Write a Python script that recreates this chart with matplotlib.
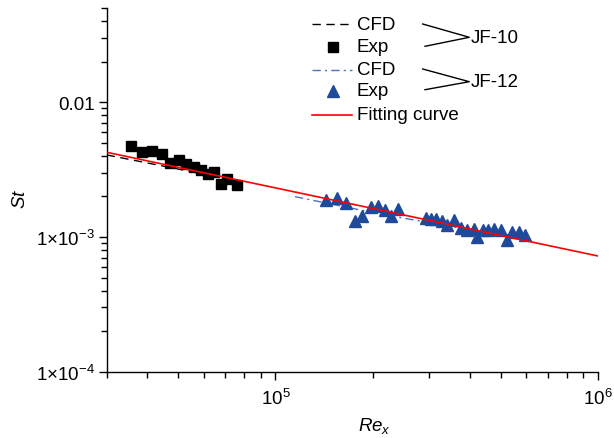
import matplotlib
matplotlib.use('Agg')
import matplotlib.pyplot as plt
from matplotlib.lines import Line2D
from matplotlib.ticker import FixedLocator, NullFormatter

plt.rcParams['font.family'] = ['Liberation Sans', 'DejaVu Sans']
plt.rcParams['mathtext.fontset'] = 'custom'
plt.rcParams['mathtext.rm'] = 'Liberation Sans'
plt.rcParams['mathtext.it'] = 'Liberation Sans:italic'

# ---------------- data ----------------
# JF-10 experiment (squares)
jf10_exp_re = [3.58e4, 3.85e4, 4.15e4, 4.44e4, 4.73e4, 5.02e4, 5.30e4,
               5.59e4, 5.89e4, 6.17e4, 6.47e4, 6.76e4, 7.09e4, 7.61e4]
jf10_exp_st = [4.77e-3, 4.25e-3, 4.37e-3, 4.11e-3, 3.54e-3, 3.71e-3, 3.46e-3,
               3.30e-3, 3.12e-3, 2.92e-3, 3.05e-3, 2.47e-3, 2.69e-3, 2.43e-3]
# JF-10 CFD (dashed)
jf10_cfd_re = [3.0e4, 6.5e4]
jf10_cfd_st = [4.06e-3, 2.82e-3]

# JF-12 experiment (triangles)
jf12_exp_re = [1.44e5, 1.55e5, 1.65e5, 1.76e5, 1.86e5, 1.98e5, 2.08e5,
               2.19e5, 2.29e5, 2.40e5, 2.93e5, 3.04e5, 3.15e5, 3.29e5,
               3.41e5, 3.58e5, 3.77e5, 3.93e5, 4.13e5, 4.22e5, 4.39e5,
               4.57e5, 4.76e5, 4.99e5, 5.23e5, 5.40e5, 5.69e5, 5.94e5]
jf12_exp_st = [1.88e-3, 1.94e-3, 1.78e-3, 1.31e-3, 1.43e-3, 1.68e-3, 1.71e-3,
               1.58e-3, 1.43e-3, 1.61e-3, 1.38e-3, 1.37e-3, 1.37e-3, 1.31e-3,
               1.22e-3, 1.33e-3, 1.16e-3, 1.12e-3, 1.14e-3, 1.00e-3, 1.12e-3,
               1.12e-3, 1.14e-3, 1.12e-3, 9.45e-4, 1.08e-3, 1.09e-3, 1.03e-3]
# JF-12 CFD (dash-dot)
jf12_cfd_re = [1.15e5, 2.11e5, 5.94e5]
jf12_cfd_st = [1.99e-3, 1.48e-3, 9.58e-4]

# fitting curve (straight on log-log, end points)
fit_re = [3.0e4, 1.0e6]
fit_st = [4.25e-3, 7.22e-4]

x_major = [1e5, 1e6]
x_major_labels = ['10$^5$', '10$^6$']
y_major = [1e-4, 1e-3, 1e-2]
y_major_labels = ['1\u00d710$^{-4}$', '1\u00d710$^{-3}$', '0.01']

W, H = 614, 439
BLUE = '#1f4a9c'
BLUE_LINE = '#4a72c0'
FS = 13.5

def fp(x, y):
    # figure pixel -> figure fraction
    return x / W, 1 - y / H

# ---------------- plot ----------------
fig = plt.figure(figsize=(W / 100, H / 100), dpi=100)
ax = fig.add_axes([106.7 / W, 1 - 372.7 / H, (598 - 106.7) / W, (372.7 - 9) / H])

ax.plot(fit_re, fit_st, color='red', lw=1.2, zorder=4)
ax.plot(jf10_cfd_re, jf10_cfd_st, color='black', lw=1, dashes=(6, 4), zorder=2)
ax.plot(jf12_cfd_re, jf12_cfd_st, color=BLUE_LINE, lw=1, dashes=(6, 3, 1.5, 3), zorder=2)
ax.plot(jf10_exp_re, jf10_exp_st, 's', color='black', ms=6.5, zorder=3)
ax.plot(jf12_exp_re, jf12_exp_st, '^', color=BLUE, ms=8, zorder=3)

ax.set_xscale('log')
ax.set_yscale('log')
ax.set_xlim(3e4, 1e6)
ax.set_ylim(1e-4, 0.05)

ax.xaxis.set_major_locator(FixedLocator(x_major))
ax.set_xticklabels(x_major_labels)
ax.xaxis.set_minor_locator(FixedLocator([m * 10 ** e for e in (4, 5) for m in range(2, 10)]))
ax.xaxis.set_minor_formatter(NullFormatter())
ax.yaxis.set_major_locator(FixedLocator(y_major))
ax.set_yticklabels(y_major_labels)
ax.yaxis.set_minor_locator(FixedLocator([m * 10 ** e for e in (-4, -3, -2) for m in range(2, 10)]))
ax.yaxis.set_minor_formatter(NullFormatter())

for s in ('top', 'right'):
    ax.spines[s].set_visible(False)
for s in ('left', 'bottom'):
    ax.spines[s].set_linewidth(1)
ax.tick_params(which='major', direction='out', length=6, width=1, labelsize=FS)
ax.tick_params(which='minor', direction='out', length=4, width=1)
ax.tick_params(axis='y', which='major', pad=2.5)
ax.tick_params(axis='x', which='major', pad=6)

ax.set_ylabel('$\\mathit{St}$', fontsize=FS)
ax.yaxis.set_label_coords(-0.158, 0.478)
ax.set_xlabel('$\\mathit{Re}_{x}$', fontsize=FS)
ax.xaxis.set_label_coords(0.546, -0.119)

# ---------------- legend, drawn by hand ----------------
rows = [25, 48, 71, 92, 116]
labels = ['CFD', 'Exp', 'CFD', 'Exp', 'Fitting curve']
x0, x1, xm, xt = 312, 352, 333, 357
fig.add_artist(Line2D(*zip(fp(x0, rows[0]), fp(x1, rows[0])), color='black', lw=1,
                      dashes=(6, 4), transform=fig.transFigure))
fig.add_artist(Line2D([fp(xm, rows[1])[0]], [fp(xm, rows[1])[1]], marker='s', ms=6.5,
                      color='black', ls='none', transform=fig.transFigure))
fig.add_artist(Line2D(*zip(fp(x0, rows[2]), fp(x1, rows[2])), color=BLUE_LINE, lw=1,
                      dashes=(6, 3, 1.5, 3), transform=fig.transFigure))
fig.add_artist(Line2D([fp(xm, rows[3])[0]], [fp(xm, rows[3])[1]], marker='^', ms=8,
                      color=BLUE, ls='none', transform=fig.transFigure))
fig.add_artist(Line2D(*zip(fp(x0, rows[4]), fp(x1, rows[4])), color='red', lw=1.2,
                      transform=fig.transFigure))
for y, lab in zip(rows, labels):
    fig.text(*fp(xt, y), lab, fontsize=FS, ha='left', va='center')

# brackets
for ya, yb, yc, name in [(25, 47.3, 38.3, 'JF-10'), (70, 90.7, 82.7, 'JF-12')]:
    fig.add_artist(Line2D(*zip(fp(422.7, ya), fp(469.3, yc), fp(425, yb)), color='black',
                          lw=1, transform=fig.transFigure))
    fig.text(*fp(471, yc), name, fontsize=FS, ha='left', va='center')

fig.savefig('out.png', dpi=100)
